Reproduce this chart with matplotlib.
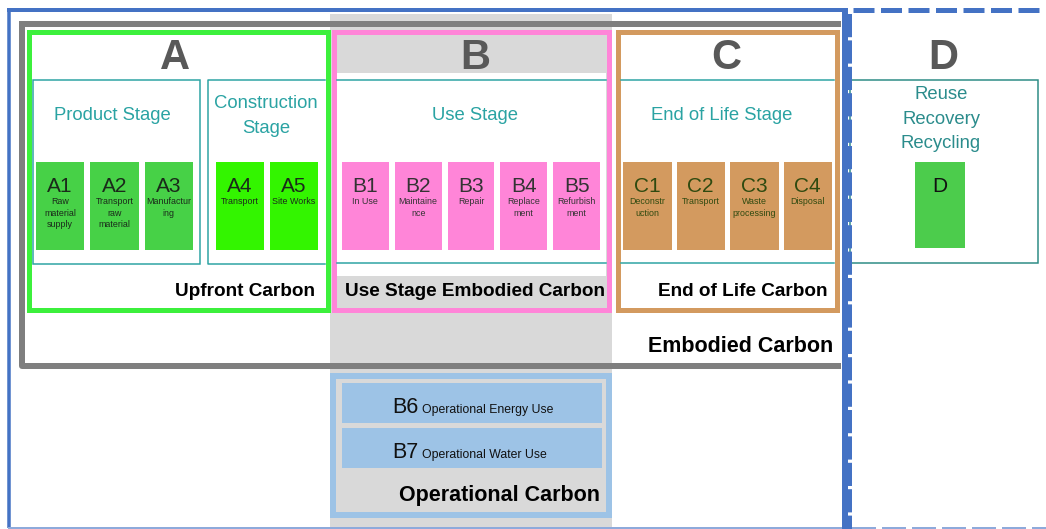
import matplotlib.pyplot as plt
from matplotlib.patches import Rectangle

plt.rcParams['font.family'] = ['Liberation Sans', 'DejaVu Sans']

# stage letters and headings
stage_letters = ['A', 'B', 'C', 'D']
stage_titles = ['Product Stage', 'Construction\nStage', 'Use Stage', 'End of Life Stage',
                'Reuse\nRecovery\nRecycling']
group_labels = ['Upfront Carbon', 'Use Stage Embodied Carbon', 'End of Life Carbon',
                'Embodied Carbon', 'Operational Carbon']

# modules
a_codes = ['A1', 'A2', 'A3']
a_desc = ['Raw\nmaterial\nsupply', 'Transport\nraw\nmaterial', 'Manufactur\ning']
a2_codes = ['A4', 'A5']
a2_desc = ['Transport', 'Site Works']
b_codes = ['B1', 'B2', 'B3', 'B4', 'B5']
b_desc = ['In Use', 'Maintaine\nnce', 'Repair', 'Replace\nment', 'Refurbish\nment']
c_codes = ['C1', 'C2', 'C3', 'C4']
c_desc = ['Deconstr\nuction', 'Transport', 'Waste\nprocessing', 'Disposal']
op_codes = ['B6', 'B7']
op_desc = ['Operational Energy Use', 'Operational Water Use']

BLUE = '#4472c4'
PALEBLUE = '#8eaadb'
GREY = '#7f7f7f'
LIGHTGREY = '#d9d9d9'
GREEN = '#3cf03c'
PINK = '#ff85d8'
ORANGE = '#d39a5f'
TEAL = '#2aa3a3'
LIGHTBLUE = '#9dc3e6'

def px(v):
    return v * 72 / 100.0

fig = plt.figure(figsize=(10.46, 5.29), dpi=100)
ax = fig.add_axes([0, 0, 1, 1])
ax.set_xlim(0, 1046)
ax.set_ylim(529, 0)
ax.axis('off')

def box(x0, y0, x1, y1, fc='none', ec='none', lw=0, ls='-', z=1):
    ax.add_patch(Rectangle((x0, y0), x1 - x0, y1 - y0, facecolor=fc, edgecolor=ec,
                           linewidth=px(lw), linestyle=ls, zorder=z))

# grey column behind B
box(330, 14, 612, 529, fc=LIGHTGREY, z=0)

# embodied carbon frame
ax.plot([22, 22, 841], [24, 366, 366], color=GREY, lw=px(6), zorder=2, solid_capstyle='butt')
ax.plot([19, 841], [24, 24], color=GREY, lw=px(6), zorder=2, solid_capstyle='butt')
box(25, 27, 330, 363, fc='white', z=1)
box(612, 27, 841, 363, fc='white', z=1)

# A
box(29, 32, 328, 310, fc='white', ec=GREEN, lw=5, z=3)
box(33, 80, 200, 264, ec=TEAL, lw=1.5, z=4)
ax.plot([325, 208, 208, 325], [80, 80, 264, 264], color=TEAL, lw=px(1.5), zorder=4)
# B
box(334, 32, 609, 310, fc=LIGHTGREY, ec=PINK, lw=5, z=3)
box(337, 73, 606, 276, fc='white', z=3)
ax.plot([337, 606], [80, 80], color=TEAL, lw=px(1.5), zorder=4)
ax.plot([337, 606], [263, 263], color=TEAL, lw=px(1.5), zorder=4)
# C
box(618, 32, 837, 310, fc='white', ec=ORANGE, lw=5, z=3)
ax.plot([621, 834], [80, 80], color=TEAL, lw=px(1.5), zorder=4)
ax.plot([621, 834], [263, 263], color=TEAL, lw=px(1.5), zorder=4)
# D
box(850, 80, 1038, 263, ec='#2a8a84', lw=1.5, z=4)

# outer frames
ax.plot([9, 9], [10, 528], color=BLUE, lw=px(3.5), zorder=6, solid_capstyle='butt')
ax.plot([9, 845], [527.5, 527.5], color=PALEBLUE, lw=px(2), zorder=6)
ax.plot([7, 848], [10, 10], color=BLUE, lw=px(4), zorder=6, solid_capstyle='butt')
ax.plot([845, 845], [8, 529], color=BLUE, lw=px(6), zorder=6, solid_capstyle='butt')
ax.plot([853, 1046], [10, 10], color=BLUE, lw=px(5), linestyle=(0, (4.2, 1.3)), zorder=6)
ax.plot([849.5, 849.5], [14, 529], color=BLUE, lw=px(4), linestyle=(0, (5.8, 0.8)), zorder=6)
ax.plot([852, 1046], [527.5, 527.5], color=PALEBLUE, lw=px(2), linestyle=(0, (12, 3)), zorder=6)

# letters
for letter, x in zip(stage_letters, [175, 475, 726, 943]):
    ax.text(x, 58, letter, ha='center', va='center', fontsize=30, fontweight='bold',
            color='#595959', zorder=7)

# stage titles
title_pos = [(112, 116), (266, 116), (475, 116), (722, 116), (941, 119)]
for t, (x, y) in zip(stage_titles, title_pos):
    c = '#2b8c8c' if 'Reuse' in t else TEAL
    ax.text(x, y, t, ha='center', va='center', fontsize=13.3, color=c, linespacing=1.55, zorder=7)

def modules(codes, descs, x0, x1, gap, fc, tc):
    n = len(codes)
    w = (x1 - x0 - gap * (n - 1)) / n
    for i, (code, desc) in enumerate(zip(codes, descs)):
        left = x0 + i * (w + gap)
        box(left, 162, left + w, 250, fc=fc, z=5)
        ax.text(left + w / 2, 186, code, ha='center', va='center', fontsize=15, color=tc, zorder=7)
        ax.text(left + w / 2, 197.5, desc, ha='center', va='top', fontsize=6.4, color=tc,
                linespacing=1.35, zorder=7)

modules(a_codes, a_desc, 36, 193, 6, '#47d147', '#1a2a1a')
modules(a2_codes, a2_desc, 216, 318, 6, '#33f500', '#1a2a1a')
modules(b_codes, b_desc, 342, 600, 6, PINK, '#333333')
modules(c_codes, c_desc, 623, 832, 5, ORANGE, '#2f4a10')
box(915, 162, 965, 248, fc='#4ccc4c', z=5)
ax.text(940, 186, 'D', ha='center', va='center', fontsize=15, color='#111111', zorder=7)

# group labels
ax.text(315, 292, group_labels[0], ha='right', va='center', fontsize=13.7, fontweight='bold', zorder=7)
ax.text(475, 292, group_labels[1], ha='center', va='center', fontsize=13.7, fontweight='bold', zorder=7)
ax.text(828, 291, group_labels[2], ha='right', va='center', fontsize=13.7, fontweight='bold', zorder=7)
ax.text(833, 347, group_labels[3], ha='right', va='center', fontsize=15.5, fontweight='bold', zorder=7)

# operational carbon
box(333, 376, 609, 515, fc=LIGHTGREY, ec=LIGHTBLUE, lw=6, z=3)
for i, (code, desc) in enumerate(zip(op_codes, op_desc)):
    top = 383 + i * 45
    box(342, top, 602, top + 40, fc=LIGHTBLUE, z=4)
    ax.text(418, top + 30, code, ha='right', va='baseline', fontsize=15.5, color='#111111', zorder=7)
    ax.text(422, top + 30, desc, ha='left', va='baseline', fontsize=8.8, color='#111111', zorder=7)
ax.text(600, 495, group_labels[4], ha='right', va='center', fontsize=15.5, fontweight='bold', zorder=7)

fig.savefig('out.png', dpi=100)
